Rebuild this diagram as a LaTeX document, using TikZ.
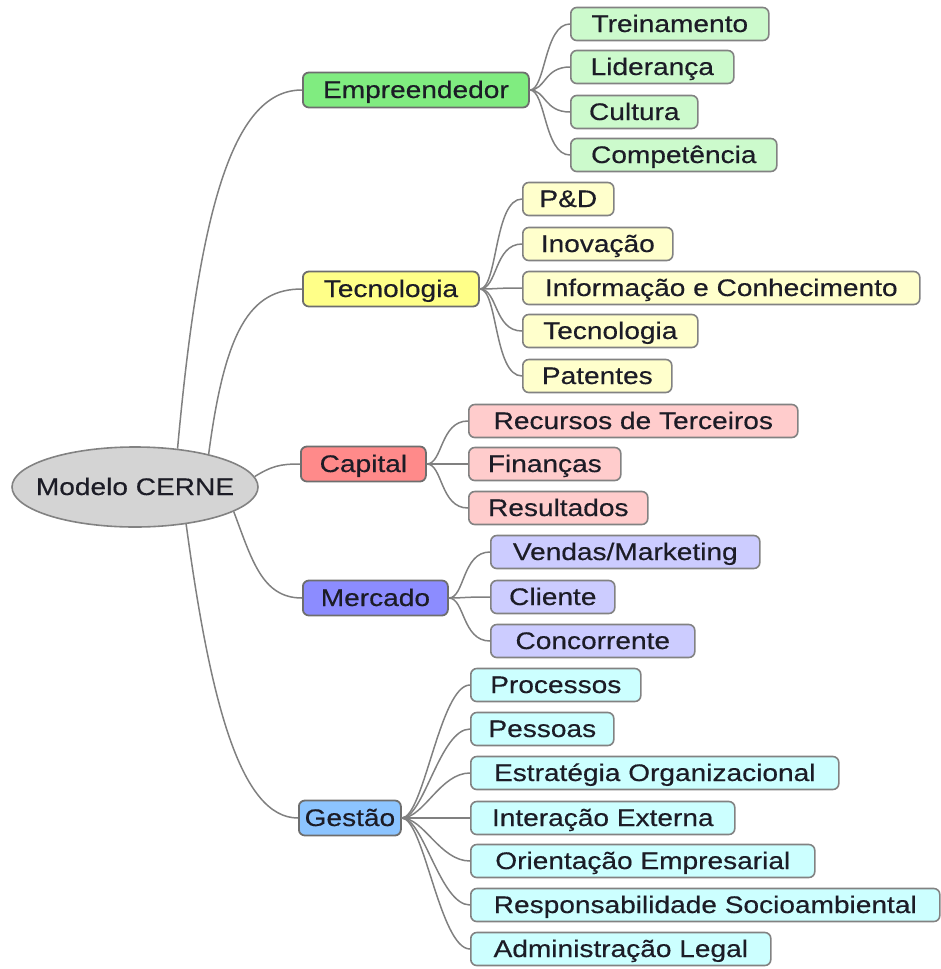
\documentclass[tikz,border=0pt]{standalone}
\usepackage{fontspec}
\setmainfont[FakeStretch=1.17,FakeBold=0.4]{Liberation Sans}
\usetikzlibrary{shapes.geometric}

\definecolor{linkgray}{RGB}{128,128,128}
\definecolor{edgegray}{RGB}{130,130,130}
\definecolor{inkdark}{RGB}{28,28,38}
\definecolor{rootfill}{RGB}{212,212,212}
\definecolor{empfill}{RGB}{128,236,128}
\definecolor{empsub}{RGB}{204,250,204}
\definecolor{tecfill}{RGB}{255,255,136}
\definecolor{tecsub}{RGB}{255,255,204}
\definecolor{capfill}{RGB}{255,138,138}
\definecolor{capsub}{RGB}{255,204,204}
\definecolor{merfill}{RGB}{140,140,255}
\definecolor{mersub}{RGB}{204,204,255}
\definecolor{gesfill}{RGB}{140,196,255}
\definecolor{gessub}{RGB}{204,255,255}

\tikzset{
  every node/.style={font=\fontsize{24}{28}\selectfont, text=inkdark},
  rootnode/.style={ellipse, draw=edgegray, line width=1.6pt, fill=rootfill,
    minimum width=246pt, minimum height=80pt, inner xsep=-14pt, inner ysep=0pt,
    text height=17pt, text depth=1pt},
  topic/.style={draw=edgegray!85!black, line width=1.8pt, rounded corners=6pt,
    minimum height=35pt, inner sep=0pt, text height=17pt, text depth=1pt, anchor=west},
  leaf/.style={draw=edgegray, line width=1.6pt, rounded corners=6pt,
    minimum height=33pt, inner sep=0pt, text height=17pt, text depth=1pt, anchor=west},
  link/.style={draw=linkgray, line width=1.5pt},
}

\begin{document}
\begin{tikzpicture}[x=1pt, y=-1pt]
\useasboundingbox (0,0) rectangle (941,969);

% central idea
\node[rootnode] (root) at (135,487) {Modelo CERNE};

% main branches
\node[topic, fill=empfill, minimum width=226pt] (emp) at (302,90)  {Empreendedor};
\node[topic, fill=tecfill, minimum width=176pt] (tec) at (302,289) {Tecnologia};
\node[topic, fill=capfill, minimum width=125pt] (cap) at (300,464) {Capital};
\node[topic, fill=merfill, minimum width=145pt] (mer) at (302,598) {Mercado};
\node[topic, fill=gesfill, minimum width=102pt] (ges) at (298,818) {Gestão};

% Empreendedor
\node[leaf, fill=empsub, minimum width=198pt] (e1) at (570,24)  {Treinamento};
\node[leaf, fill=empsub, minimum width=163pt] (e2) at (570,67)  {Liderança};
\node[leaf, fill=empsub, minimum width=127pt] (e3) at (570,112) {Cultura};
\node[leaf, fill=empsub, minimum width=206pt] (e4) at (570,155) {Competência};

% Tecnologia
\node[leaf, fill=tecsub, minimum width=91pt]  (t1) at (522,199) {P\&D};
\node[leaf, fill=tecsub, minimum width=150pt] (t2) at (522,244) {Inovação};
\node[leaf, fill=tecsub, minimum width=397pt] (t3) at (522,288) {Informação e Conhecimento};
\node[leaf, fill=tecsub, minimum width=175pt] (t4) at (522,331) {Tecnologia};
\node[leaf, fill=tecsub, minimum width=149pt] (t5) at (522,376) {Patentes};

% Capital
\node[leaf, fill=capsub, minimum width=329pt] (c1) at (468,421) {Recursos de Terceiros};
\node[leaf, fill=capsub, minimum width=152pt] (c2) at (468,464) {Finanças};
\node[leaf, fill=capsub, minimum width=179pt] (c3) at (468,508) {Resultados};

% Mercado
\node[leaf, fill=mersub, minimum width=269pt] (m1) at (490,552) {Vendas/Marketing};
\node[leaf, fill=mersub, minimum width=124pt] (m2) at (490,597) {Cliente};
\node[leaf, fill=mersub, minimum width=204pt] (m3) at (490,641) {Concorrente};

% Gestão
\node[leaf, fill=gessub, minimum width=170pt] (g1) at (470,685) {Processos};
\node[leaf, fill=gessub, minimum width=143pt] (g2) at (470,729) {Pessoas};
\node[leaf, fill=gessub, minimum width=368pt] (g3) at (470,773) {Estratégia Organizacional};
\node[leaf, fill=gessub, minimum width=264pt] (g4) at (470,818) {Interação Externa};
\node[leaf, fill=gessub, minimum width=344pt] (g5) at (470,861) {Orientação Empresarial};
\node[leaf, fill=gessub, minimum width=469pt] (g6) at (470,905) {Responsabilidade Socioambiental};
\node[leaf, fill=gessub, minimum width=300pt] (g7) at (470,949) {Administração Legal};

% links from the central idea
\draw[link] (root.42) .. controls (200,200) and (235,90) .. (emp.west);
\draw[link] (root.24) .. controls (225,330) and (250,289) .. (tec.west);
\draw[link] (root.5) .. controls (272,466) and (280,464) .. (cap.west);
\draw[link] (root.-14) .. controls (252,560) and (262,598) .. (mer.west);
\draw[link] (root.-36) .. controls (210,700) and (240,818) .. (ges.west);

% links to the sub-topics
\foreach \c in {e1,e2,e3,e4}
  \draw[link] (emp.east) .. controls +(16,0) and +(-26,0) .. (\c.west);
\foreach \c in {t1,t2,t3,t4,t5}
  \draw[link] (tec.east) .. controls +(18,0) and +(-28,0) .. (\c.west);
\foreach \c in {c1,c2,c3}
  \draw[link] (cap.east) .. controls +(16,0) and +(-28,0) .. (\c.west);
\foreach \c in {m1,m2,m3}
  \draw[link] (mer.east) .. controls +(16,0) and +(-28,0) .. (\c.west);
\foreach \c in {g1,g2,g3,g4,g5,g6,g7}
  \draw[link] (ges.east) .. controls +(22,0) and +(-30,0) .. (\c.west);
\end{tikzpicture}
\end{document}
